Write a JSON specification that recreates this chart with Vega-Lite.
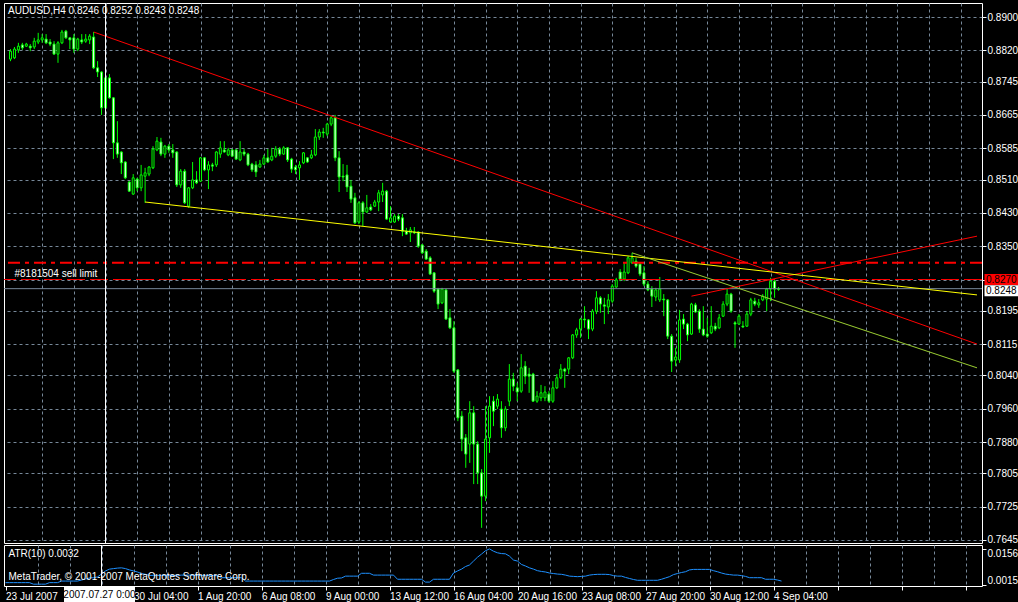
{
"$schema":"https://vega.github.io/schema/vega-lite/v6.json",
"background":"black",
"padding":{"left":2,"top":2,"right":2,"bottom":0},
"bounds":"flush",
"spacing":2,
"datasets":{
"bars":[
{"i":0,"o":0.8799,"h":0.8823,"l":0.8794,"c":0.8818,"atr":0.0026},
{"i":1,"o":0.8802,"h":0.8828,"l":0.8799,"c":0.8823,"atr":0.0026},
{"i":2,"o":0.8821,"h":0.8838,"l":0.8814,"c":0.8830,"atr":0.0026},
{"i":3,"o":0.8833,"h":0.8838,"l":0.8821,"c":0.8826,"atr":0.0026},
{"i":4,"o":0.8830,"h":0.8838,"l":0.8828,"c":0.8835,"atr":0.0026},
{"i":5,"o":0.8830,"h":0.8835,"l":0.8818,"c":0.8826,"atr":0.0026},
{"i":6,"o":0.8828,"h":0.8850,"l":0.8823,"c":0.8842,"atr":0.0026},
{"i":7,"o":0.8840,"h":0.8862,"l":0.8835,"c":0.8845,"atr":0.0020},
{"i":8,"o":0.8845,"h":0.8859,"l":0.8838,"c":0.8850,"atr":0.0020},
{"i":9,"o":0.8847,"h":0.8859,"l":0.8835,"c":0.8838,"atr":0.0020},
{"i":10,"o":0.8840,"h":0.8847,"l":0.8830,"c":0.8835,"atr":0.0020},
{"i":11,"o":0.8835,"h":0.8842,"l":0.8809,"c":0.8811,"atr":0.0026},
{"i":12,"o":0.8811,"h":0.8842,"l":0.8790,"c":0.8838,"atr":0.0026},
{"i":13,"o":0.8838,"h":0.8869,"l":0.8835,"c":0.8864,"atr":0.0026},
{"i":14,"o":0.8866,"h":0.8869,"l":0.8847,"c":0.8850,"atr":0.0032},
{"i":15,"o":0.8850,"h":0.8852,"l":0.8823,"c":0.8845,"atr":0.0032},
{"i":16,"o":0.8850,"h":0.8859,"l":0.8814,"c":0.8823,"atr":0.0032},
{"i":17,"o":0.8823,"h":0.8850,"l":0.8818,"c":0.8847,"atr":0.0032},
{"i":18,"o":0.8845,"h":0.8859,"l":0.8835,"c":0.8840,"atr":0.0032},
{"i":19,"o":0.8842,"h":0.8859,"l":0.8838,"c":0.8847,"atr":0.0036},
{"i":20,"o":0.8845,"h":0.8859,"l":0.8835,"c":0.8854,"atr":0.0040},
{"i":21,"o":0.8852,"h":0.8864,"l":0.8775,"c":0.8778,"atr":0.0044},
{"i":22,"o":0.8778,"h":0.8794,"l":0.8756,"c":0.8768,"atr":0.0045},
{"i":23,"o":0.8768,"h":0.8770,"l":0.8665,"c":0.8682,"atr":0.0048},
{"i":24,"o":0.8682,"h":0.8756,"l":0.8675,"c":0.8754,"atr":0.0059},
{"i":25,"o":0.8754,"h":0.8763,"l":0.8704,"c":0.8706,"atr":0.0071},
{"i":26,"o":0.8706,"h":0.8708,"l":0.8559,"c":0.8598,"atr":0.0078},
{"i":27,"o":0.8598,"h":0.8650,"l":0.8562,"c":0.8571,"atr":0.0080},
{"i":28,"o":0.8576,"h":0.8578,"l":0.8523,"c":0.8550,"atr":0.0082},
{"i":29,"o":0.8552,"h":0.8554,"l":0.8511,"c":0.8514,"atr":0.0083},
{"i":30,"o":0.8504,"h":0.8506,"l":0.8480,"c":0.8482,"atr":0.0080},
{"i":31,"o":0.8475,"h":0.8523,"l":0.8473,"c":0.8514,"atr":0.0075},
{"i":32,"o":0.8511,"h":0.8514,"l":0.8482,"c":0.8490,"atr":0.0071},
{"i":33,"o":0.8490,"h":0.8545,"l":0.8482,"c":0.8521,"atr":0.0067},
{"i":34,"o":0.8518,"h":0.8538,"l":0.8454,"c":0.8526,"atr":0.0061},
{"i":35,"o":0.8523,"h":0.8542,"l":0.8518,"c":0.8540,"atr":0.0058},
{"i":36,"o":0.8538,"h":0.8590,"l":0.8535,"c":0.8583,"atr":0.0054},
{"i":37,"o":0.8581,"h":0.8612,"l":0.8578,"c":0.8602,"atr":0.0054},
{"i":38,"o":0.8600,"h":0.8610,"l":0.8566,"c":0.8571,"atr":0.0054},
{"i":39,"o":0.8571,"h":0.8593,"l":0.8562,"c":0.8590,"atr":0.0054},
{"i":40,"o":0.8590,"h":0.8595,"l":0.8574,"c":0.8581,"atr":0.0054},
{"i":41,"o":0.8581,"h":0.8595,"l":0.8562,"c":0.8574,"atr":0.0054},
{"i":42,"o":0.8576,"h":0.8578,"l":0.8492,"c":0.8497,"atr":0.0054},
{"i":43,"o":0.8497,"h":0.8535,"l":0.8490,"c":0.8530,"atr":0.0054},
{"i":44,"o":0.8530,"h":0.8535,"l":0.8451,"c":0.8454,"atr":0.0055},
{"i":45,"o":0.8446,"h":0.8492,"l":0.8442,"c":0.8490,"atr":0.0055},
{"i":46,"o":0.8490,"h":0.8552,"l":0.8487,"c":0.8509,"atr":0.0055},
{"i":47,"o":0.8509,"h":0.8530,"l":0.8499,"c":0.8502,"atr":0.0054},
{"i":48,"o":0.8506,"h":0.8564,"l":0.8504,"c":0.8562,"atr":0.0054},
{"i":49,"o":0.8562,"h":0.8564,"l":0.8530,"c":0.8533,"atr":0.0054},
{"i":50,"o":0.8533,"h":0.8554,"l":0.8487,"c":0.8545,"atr":0.0054},
{"i":51,"o":0.8545,"h":0.8550,"l":0.8530,"c":0.8542,"atr":0.0053},
{"i":52,"o":0.8545,"h":0.8578,"l":0.8540,"c":0.8576,"atr":0.0053},
{"i":53,"o":0.8571,"h":0.8602,"l":0.8562,"c":0.8586,"atr":0.0053},
{"i":54,"o":0.8581,"h":0.8602,"l":0.8574,"c":0.8576,"atr":0.0045},
{"i":55,"o":0.8569,"h":0.8586,"l":0.8566,"c":0.8581,"atr":0.0045},
{"i":56,"o":0.8581,"h":0.8583,"l":0.8564,"c":0.8566,"atr":0.0045},
{"i":57,"o":0.8581,"h":0.8583,"l":0.8557,"c":0.8559,"atr":0.0045},
{"i":58,"o":0.8557,"h":0.8602,"l":0.8554,"c":0.8576,"atr":0.0045},
{"i":59,"o":0.8576,"h":0.8583,"l":0.8566,"c":0.8571,"atr":0.0045},
{"i":60,"o":0.8571,"h":0.8574,"l":0.8542,"c":0.8545,"atr":0.0032},
{"i":61,"o":0.8547,"h":0.8550,"l":0.8528,"c":0.8533,"atr":0.0032},
{"i":62,"o":0.8545,"h":0.8554,"l":0.8516,"c":0.8528,"atr":0.0032},
{"i":63,"o":0.8540,"h":0.8557,"l":0.8538,"c":0.8547,"atr":0.0032},
{"i":64,"o":0.8547,"h":0.8569,"l":0.8545,"c":0.8562,"atr":0.0032},
{"i":65,"o":0.8562,"h":0.8583,"l":0.8550,"c":0.8552,"atr":0.0032},
{"i":66,"o":0.8557,"h":0.8586,"l":0.8554,"c":0.8566,"atr":0.0032},
{"i":67,"o":0.8566,"h":0.8590,"l":0.8562,"c":0.8583,"atr":0.0032},
{"i":68,"o":0.8583,"h":0.8588,"l":0.8566,"c":0.8571,"atr":0.0032},
{"i":69,"o":0.8571,"h":0.8590,"l":0.8569,"c":0.8586,"atr":0.0032},
{"i":70,"o":0.8586,"h":0.8588,"l":0.8552,"c":0.8557,"atr":0.0032},
{"i":71,"o":0.8559,"h":0.8562,"l":0.8526,"c":0.8535,"atr":0.0032},
{"i":72,"o":0.8540,"h":0.8545,"l":0.8523,"c":0.8533,"atr":0.0032},
{"i":73,"o":0.8538,"h":0.8554,"l":0.8509,"c":0.8545,"atr":0.0032},
{"i":74,"o":0.8550,"h":0.8576,"l":0.8547,"c":0.8574,"atr":0.0032},
{"i":75,"o":0.8562,"h":0.8564,"l":0.8550,"c":0.8552,"atr":0.0032},
{"i":76,"o":0.8562,"h":0.8581,"l":0.8559,"c":0.8569,"atr":0.0032},
{"i":77,"o":0.8569,"h":0.8631,"l":0.8566,"c":0.8612,"atr":0.0032},
{"i":78,"o":0.8612,"h":0.8631,"l":0.8605,"c":0.8624,"atr":0.0032},
{"i":79,"o":0.8624,"h":0.8634,"l":0.8610,"c":0.8622,"atr":0.0032},
{"i":80,"o":0.8619,"h":0.8646,"l":0.8614,"c":0.8643,"atr":0.0032},
{"i":81,"o":0.8643,"h":0.8662,"l":0.8638,"c":0.8658,"atr":0.0032},
{"i":82,"o":0.8658,"h":0.8665,"l":0.8554,"c":0.8562,"atr":0.0038},
{"i":83,"o":0.8562,"h":0.8578,"l":0.8480,"c":0.8516,"atr":0.0043},
{"i":84,"o":0.8518,"h":0.8547,"l":0.8506,"c":0.8516,"atr":0.0044},
{"i":85,"o":0.8521,"h":0.8545,"l":0.8480,"c":0.8492,"atr":0.0051},
{"i":86,"o":0.8494,"h":0.8509,"l":0.8454,"c":0.8463,"atr":0.0051},
{"i":87,"o":0.8466,"h":0.8478,"l":0.8403,"c":0.8406,"atr":0.0051},
{"i":88,"o":0.8408,"h":0.8458,"l":0.8403,"c":0.8454,"atr":0.0051},
{"i":89,"o":0.8454,"h":0.8458,"l":0.8398,"c":0.8432,"atr":0.0062},
{"i":90,"o":0.8432,"h":0.8473,"l":0.8430,"c":0.8442,"atr":0.0062},
{"i":91,"o":0.8444,"h":0.8451,"l":0.8434,"c":0.8437,"atr":0.0062},
{"i":92,"o":0.8446,"h":0.8461,"l":0.8444,"c":0.8456,"atr":0.0055},
{"i":93,"o":0.8456,"h":0.8485,"l":0.8434,"c":0.8478,"atr":0.0055},
{"i":94,"o":0.8473,"h":0.8502,"l":0.8456,"c":0.8482,"atr":0.0055},
{"i":95,"o":0.8482,"h":0.8485,"l":0.8413,"c":0.8415,"atr":0.0055},
{"i":96,"o":0.8408,"h":0.8446,"l":0.8406,"c":0.8418,"atr":0.0055},
{"i":97,"o":0.8408,"h":0.8427,"l":0.8406,"c":0.8422,"atr":0.0055},
{"i":98,"o":0.8422,"h":0.8427,"l":0.8410,"c":0.8415,"atr":0.0039},
{"i":99,"o":0.8418,"h":0.8427,"l":0.8374,"c":0.8386,"atr":0.0039},
{"i":100,"o":0.8386,"h":0.8394,"l":0.8377,"c":0.8379,"atr":0.0039},
{"i":101,"o":0.8382,"h":0.8396,"l":0.8360,"c":0.8389,"atr":0.0039},
{"i":102,"o":0.8384,"h":0.8396,"l":0.8379,"c":0.8382,"atr":0.0039},
{"i":103,"o":0.8384,"h":0.8386,"l":0.8346,"c":0.8350,"atr":0.0039},
{"i":104,"o":0.8353,"h":0.8355,"l":0.8331,"c":0.8334,"atr":0.0039},
{"i":105,"o":0.8338,"h":0.8343,"l":0.8317,"c":0.8319,"atr":0.0028},
{"i":106,"o":0.8322,"h":0.8326,"l":0.8281,"c":0.8283,"atr":0.0028},
{"i":107,"o":0.8286,"h":0.8288,"l":0.8238,"c":0.8242,"atr":0.0039},
{"i":108,"o":0.8247,"h":0.8250,"l":0.8199,"c":0.8211,"atr":0.0039},
{"i":109,"o":0.8214,"h":0.8250,"l":0.8211,"c":0.8247,"atr":0.0039},
{"i":110,"o":0.8245,"h":0.8247,"l":0.8173,"c":0.8175,"atr":0.0039},
{"i":111,"o":0.8178,"h":0.8199,"l":0.8151,"c":0.8154,"atr":0.0039},
{"i":112,"o":0.8154,"h":0.8170,"l":0.8046,"c":0.8050,"atr":0.0063},
{"i":113,"o":0.8053,"h":0.8055,"l":0.7930,"c":0.7938,"atr":0.0071},
{"i":114,"o":0.7942,"h":0.7954,"l":0.7858,"c":0.7887,"atr":0.0078},
{"i":115,"o":0.7890,"h":0.7899,"l":0.7818,"c":0.7851,"atr":0.0088},
{"i":116,"o":0.7875,"h":0.7978,"l":0.7830,"c":0.7950,"atr":0.0094},
{"i":117,"o":0.7950,"h":0.7966,"l":0.7779,"c":0.7875,"atr":0.0109},
{"i":118,"o":0.7875,"h":0.7882,"l":0.7779,"c":0.7806,"atr":0.0124},
{"i":119,"o":0.7806,"h":0.7815,"l":0.7674,"c":0.7750,"atr":0.0136},
{"i":120,"o":0.7750,"h":0.7966,"l":0.7738,"c":0.7887,"atr":0.0149},
{"i":121,"o":0.7890,"h":0.7990,"l":0.7854,"c":0.7966,"atr":0.0156},
{"i":122,"o":0.7978,"h":0.7990,"l":0.7918,"c":0.7954,"atr":0.0147},
{"i":123,"o":0.7966,"h":0.7995,"l":0.7959,"c":0.7983,"atr":0.0141},
{"i":124,"o":0.7959,"h":0.7978,"l":0.7890,"c":0.7914,"atr":0.0138},
{"i":125,"o":0.7914,"h":0.7966,"l":0.7906,"c":0.7959,"atr":0.0137},
{"i":126,"o":0.7978,"h":0.8067,"l":0.7966,"c":0.8031,"atr":0.0128},
{"i":127,"o":0.8031,"h":0.8046,"l":0.8002,"c":0.8014,"atr":0.0113},
{"i":128,"o":0.8010,"h":0.8022,"l":0.7978,"c":0.8000,"atr":0.0109},
{"i":129,"o":0.8002,"h":0.8091,"l":0.7998,"c":0.8058,"atr":0.0096},
{"i":130,"o":0.8062,"h":0.8074,"l":0.8019,"c":0.8038,"atr":0.0090},
{"i":131,"o":0.8043,"h":0.8058,"l":0.7998,"c":0.8038,"atr":0.0083},
{"i":132,"o":0.8043,"h":0.8046,"l":0.7976,"c":0.7978,"atr":0.0078},
{"i":133,"o":0.7978,"h":0.8002,"l":0.7974,"c":0.7990,"atr":0.0072},
{"i":134,"o":0.7986,"h":0.8017,"l":0.7978,"c":0.7998,"atr":0.0069},
{"i":135,"o":0.7986,"h":0.8014,"l":0.7978,"c":0.8000,"atr":0.0067},
{"i":136,"o":0.7995,"h":0.8002,"l":0.7974,"c":0.7978,"atr":0.0063},
{"i":137,"o":0.7978,"h":0.8026,"l":0.7974,"c":0.8010,"atr":0.0061},
{"i":138,"o":0.8010,"h":0.8043,"l":0.8007,"c":0.8034,"atr":0.0059},
{"i":139,"o":0.8034,"h":0.8067,"l":0.8031,"c":0.8055,"atr":0.0058},
{"i":140,"o":0.8055,"h":0.8058,"l":0.8010,"c":0.8050,"atr":0.0055},
{"i":141,"o":0.8055,"h":0.8084,"l":0.8043,"c":0.8082,"atr":0.0051},
{"i":142,"o":0.8082,"h":0.8139,"l":0.8079,"c":0.8137,"atr":0.0050},
{"i":143,"o":0.8137,"h":0.8154,"l":0.8130,"c":0.8149,"atr":0.0049},
{"i":144,"o":0.8151,"h":0.8178,"l":0.8130,"c":0.8175,"atr":0.0050},
{"i":145,"o":0.8175,"h":0.8206,"l":0.8154,"c":0.8173,"atr":0.0051},
{"i":146,"o":0.8173,"h":0.8175,"l":0.8127,"c":0.8151,"atr":0.0055},
{"i":147,"o":0.8151,"h":0.8199,"l":0.8146,"c":0.8194,"atr":0.0057},
{"i":148,"o":0.8194,"h":0.8242,"l":0.8187,"c":0.8226,"atr":0.0058},
{"i":149,"o":0.8226,"h":0.8230,"l":0.8190,"c":0.8211,"atr":0.0058},
{"i":150,"o":0.8209,"h":0.8226,"l":0.8163,"c":0.8206,"atr":0.0058},
{"i":151,"o":0.8204,"h":0.8235,"l":0.8187,"c":0.8221,"atr":0.0057},
{"i":152,"o":0.8218,"h":0.8259,"l":0.8214,"c":0.8254,"atr":0.0053},
{"i":153,"o":0.8252,"h":0.8274,"l":0.8250,"c":0.8269,"atr":0.0051},
{"i":154,"o":0.8288,"h":0.8295,"l":0.8266,"c":0.8271,"atr":0.0051},
{"i":155,"o":0.8271,"h":0.8310,"l":0.8266,"c":0.8288,"atr":0.0046},
{"i":156,"o":0.8286,"h":0.8326,"l":0.8283,"c":0.8322,"atr":0.0042},
{"i":157,"o":0.8310,"h":0.8334,"l":0.8307,"c":0.8322,"atr":0.0038},
{"i":158,"o":0.8314,"h":0.8322,"l":0.8298,"c":0.8302,"atr":0.0035},
{"i":159,"o":0.8307,"h":0.8310,"l":0.8278,"c":0.8283,"atr":0.0035},
{"i":160,"o":0.8286,"h":0.8302,"l":0.8254,"c":0.8259,"atr":0.0035},
{"i":161,"o":0.8259,"h":0.8266,"l":0.8242,"c":0.8245,"atr":0.0035},
{"i":162,"o":0.8247,"h":0.8254,"l":0.8204,"c":0.8230,"atr":0.0035},
{"i":163,"o":0.8228,"h":0.8250,"l":0.8218,"c":0.8245,"atr":0.0035},
{"i":164,"o":0.8221,"h":0.8276,"l":0.8216,"c":0.8247,"atr":0.0039},
{"i":165,"o":0.8223,"h":0.8235,"l":0.8182,"c":0.8221,"atr":0.0044},
{"i":166,"o":0.8221,"h":0.8223,"l":0.8127,"c":0.8134,"atr":0.0049},
{"i":167,"o":0.8134,"h":0.8139,"l":0.8048,"c":0.8074,"atr":0.0057},
{"i":168,"o":0.8077,"h":0.8106,"l":0.8062,"c":0.8084,"atr":0.0061},
{"i":169,"o":0.8077,"h":0.8197,"l":0.8070,"c":0.8173,"atr":0.0065},
{"i":170,"o":0.8175,"h":0.8187,"l":0.8151,"c":0.8163,"atr":0.0068},
{"i":171,"o":0.8163,"h":0.8166,"l":0.8122,"c":0.8137,"atr":0.0075},
{"i":172,"o":0.8139,"h":0.8214,"l":0.8137,"c":0.8211,"atr":0.0077},
{"i":173,"o":0.8209,"h":0.8214,"l":0.8190,"c":0.8192,"atr":0.0077},
{"i":174,"o":0.8194,"h":0.8199,"l":0.8142,"c":0.8151,"atr":0.0077},
{"i":175,"o":0.8151,"h":0.8206,"l":0.8134,"c":0.8137,"atr":0.0077},
{"i":176,"o":0.8139,"h":0.8178,"l":0.8130,"c":0.8134,"atr":0.0077},
{"i":177,"o":0.8142,"h":0.8206,"l":0.8139,"c":0.8158,"atr":0.0072},
{"i":178,"o":0.8158,"h":0.8166,"l":0.8146,"c":0.8151,"atr":0.0068},
{"i":179,"o":0.8154,"h":0.8187,"l":0.8151,"c":0.8178,"atr":0.0063},
{"i":180,"o":0.8182,"h":0.8218,"l":0.8180,"c":0.8211,"atr":0.0059},
{"i":181,"o":0.8211,"h":0.8250,"l":0.8206,"c":0.8235,"atr":0.0057},
{"i":182,"o":0.8235,"h":0.8238,"l":0.8190,"c":0.8194,"atr":0.0055},
{"i":183,"o":0.8166,"h":0.8170,"l":0.8106,"c":0.8163,"atr":0.0055},
{"i":184,"o":0.8163,"h":0.8187,"l":0.8161,"c":0.8182,"atr":0.0053},
{"i":185,"o":0.8158,"h":0.8170,"l":0.8154,"c":0.8156,"atr":0.0050},
{"i":186,"o":0.8158,"h":0.8194,"l":0.8156,"c":0.8187,"atr":0.0045},
{"i":187,"o":0.8187,"h":0.8226,"l":0.8182,"c":0.8221,"atr":0.0045},
{"i":188,"o":0.8218,"h":0.8226,"l":0.8206,"c":0.8211,"atr":0.0045},
{"i":189,"o":0.8209,"h":0.8223,"l":0.8202,"c":0.8214,"atr":0.0045},
{"i":190,"o":0.8221,"h":0.8235,"l":0.8218,"c":0.8230,"atr":0.0039},
{"i":191,"o":0.8223,"h":0.8250,"l":0.8194,"c":0.8247,"atr":0.0039},
{"i":192,"o":0.8247,"h":0.8274,"l":0.8218,"c":0.8266,"atr":0.0039},
{"i":193,"o":0.8266,"h":0.8271,"l":0.8226,"c":0.8247,"atr":0.0036},
{"i":194,"o":0.8246,"h":0.8252,"l":0.8243,"c":0.8248,"atr":0.0032}
],
"trend":[
{"name":"red1","i":21,"p":0.8864},{"name":"red1","i":244.125,"p":0.8115},
{"name":"red2","i":172,"p":0.8230},{"name":"red2","i":244.125,"p":0.8374},
{"name":"yellow","i":34,"p":0.8456},{"name":"yellow","i":244.125,"p":0.8233},
{"name":"green","i":157,"p":0.8334},{"name":"green","i":244.125,"p":0.8058}
],
"levels":[
{"name":"stop","p":0.8310},
{"name":"#8181504 sell limit","p":0.8270},
{"name":"bid","p":0.8248}
],
"marker":[{"i":24,"label":"2007.07.27 0:00"}]
},
"vconcat":[
{
"width":978,"height":540,
"title":{"text":"AUDUSD,H4 0.8246 0.8252 0.8243 0.8248","anchor":"start","offset":-13,"dx":5},
"layer":[
{"data":{"name":"bars"},
 "mark":{"type":"rule","color":"#00FF00","strokeWidth":1},
 "encoding":{
  "x":{"field":"i","type":"quantitative","scale":{"domain":[-0.375,244.125],"nice":false,"zero":false},
   "axis":{"orient":"bottom","values":[8,16,24,32,40,48,56,64,72,80,88,96,104,112,120,128,136,144,152,160,168,176,184,192,200,208,216,224,232,240],"tickCount":200,"grid":true,"labels":false,"ticks":false,"domain":false,"title":null,"minExtent":0,"maxExtent":0}},
  "y":{"field":"l","type":"quantitative","scale":{"domain":[0.76376,0.89336],"nice":false,"zero":false},
   "axis":{"orient":"right","values":[0.8900,0.8820,0.8745,0.8665,0.8585,0.8510,0.8430,0.8350,0.8270,0.8195,0.8115,0.8040,0.7960,0.7880,0.7805,0.7725,0.7645],"tickCount":200,"format":".4f","grid":true,"title":null,"domain":false,"tickSize":4,"labelPadding":1,"labelBaseline":"middle","labelFlush":false,"labelOverlap":false}},
  "y2":{"field":"h"}}},
{"data":{"name":"bars"},
 "mark":{"type":"bar","width":2,"stroke":"#00FF00","strokeWidth":1},
 "encoding":{
  "x":{"field":"i","type":"quantitative","axis":{"title":null}},
  "y":{"field":"o","type":"quantitative","axis":{"title":null}},
  "y2":{"field":"c"},
  "fill":{"condition":{"test":"datum.c < datum.o","value":"white"},"value":"black"}}},
{"data":{"name":"levels"},"transform":[{"filter":"datum.name == 'stop'"}],
 "mark":{"type":"rule","color":"#FF0000","strokeWidth":2,"strokeDash":[12,5,4,5]},
 "encoding":{"y":{"field":"p","type":"quantitative","axis":{"title":null}}}},
{"data":{"name":"levels"},"transform":[{"filter":"datum.name == '#8181504 sell limit'"}],
 "mark":{"type":"rule","color":"#FF0000","strokeWidth":1,"strokeDash":[18,5]},
 "encoding":{"y":{"field":"p","type":"quantitative","axis":{"title":null}}}},
{"data":{"name":"levels"},"transform":[{"filter":"datum.name == 'bid'"}],
 "mark":{"type":"rule","color":"#778899","strokeWidth":1},
 "encoding":{"y":{"field":"p","type":"quantitative","axis":{"title":null}}}},
{"data":{"name":"trend"},
 "mark":{"type":"line","strokeWidth":1},
 "encoding":{
  "x":{"field":"i","type":"quantitative","axis":{"title":null}},
  "y":{"field":"p","type":"quantitative","axis":{"title":null}},
  "detail":{"field":"name"},
  "color":{"field":"name","type":"nominal","scale":{"domain":["red1","red2","yellow","green"],"range":["#FF0000","#FF0000","#FFFF00","#9ACD32"]},"legend":null}}},
{"data":{"name":"marker"},
 "mark":{"type":"rule","color":"white","strokeWidth":1},
 "encoding":{"x":{"field":"i","type":"quantitative","axis":{"title":null}}}},
{"data":{"name":"levels"},"transform":[{"filter":"datum.name == '#8181504 sell limit'"}],
 "mark":{"type":"text","align":"left","baseline":"middle","dy":-6,"color":"white","fontSize":10},
 "encoding":{"x":{"datum":1},"y":{"field":"p","type":"quantitative","axis":{"title":null}},"text":{"field":"name"}}},
{"data":{"name":"levels"},"transform":[{"filter":"datum.name == '#8181504 sell limit'"}],
 "mark":{"type":"point","shape":"M-1,-0.3235L1,-0.3235L1,0.3235L-1,0.3235Z","size":1156,"filled":true,"fill":"#FF0000","strokeWidth":0,"opacity":1,"xOffset":19.5},
 "encoding":{"x":{"value":"width"},"y":{"field":"p","type":"quantitative","axis":{"title":null}}}},
{"data":{"name":"levels"},"transform":[{"filter":"datum.name == '#8181504 sell limit'"}],
 "mark":{"type":"text","align":"left","baseline":"middle","dx":4,"color":"black","fontSize":10},
 "encoding":{"x":{"value":"width"},"y":{"field":"p","type":"quantitative","axis":{"title":null}},"text":{"field":"p","type":"quantitative","format":".4f"}}},
{"data":{"name":"levels"},"transform":[{"filter":"datum.name == 'bid'"}],
 "mark":{"type":"point","shape":"M-1,-0.3235L1,-0.3235L1,0.3235L-1,0.3235Z","size":1156,"filled":true,"fill":"white","strokeWidth":0,"opacity":1,"xOffset":19.5,"yOffset":2},
 "encoding":{"x":{"value":"width"},"y":{"field":"p","type":"quantitative","axis":{"title":null}}}},
{"data":{"name":"levels"},"transform":[{"filter":"datum.name == 'bid'"}],
 "mark":{"type":"text","align":"left","baseline":"middle","dx":4,"dy":2,"color":"black","fontSize":10},
 "encoding":{"x":{"value":"width"},"y":{"field":"p","type":"quantitative","axis":{"title":null}},"text":{"field":"p","type":"quantitative","format":".4f"}}}
]
},
{
"width":978,"height":41,
"title":{"text":"ATR(10) 0.0032","subtitle":"MetaTrader, © 2001-2007 MetaQuotes Software Corp.","anchor":"start","offset":-37,"dx":5,"subtitlePadding":13},
"layer":[
{"data":{"name":"bars"},
 "mark":{"type":"line","color":"#1E90FF","strokeWidth":1},
 "encoding":{
  "x":{"field":"i","type":"quantitative","scale":{"domain":[-0.375,244.125],"nice":false,"zero":false},
   "axis":{"orient":"bottom","values":[0,8,16,24,32,40,48,56,64,72,80,88,96,104,112,120,128,136,144,152,160,168,176,184,192,200,208,216,224,232,240],"tickCount":200,"grid":true,
    "gridOpacity":{"condition":{"test":"datum.value == 0","value":0},"value":1},
    "tickOpacity":{"condition":{"test":"datum.value % 16 == 0","value":1},"value":0},
    "tickSize":4,"domain":false,"title":null,"labelAlign":"left","labelBaseline":"top","labelPadding":1,"labelFlush":false,"labelOverlap":false,
    "labelExpr":"datum.value == 0 ? '23 Jul 2007' : datum.value == 32 ? '30 Jul 04:00' : datum.value == 48 ? '1 Aug 20:00' : datum.value == 64 ? '6 Aug 08:00' : datum.value == 80 ? '9 Aug 00:00' : datum.value == 96 ? '13 Aug 12:00' : datum.value == 112 ? '16 Aug 04:00' : datum.value == 128 ? '20 Aug 16:00' : datum.value == 144 ? '23 Aug 08:00' : datum.value == 160 ? '27 Aug 20:00' : datum.value == 176 ? '30 Aug 12:00' : datum.value == 192 ? '4 Sep 04:00' : ''"}},
  "y":{"field":"atr","type":"quantitative","scale":{"domain":[0.0013,0.0171],"nice":false,"zero":false},
   "axis":{"orient":"right","values":[0.0156,0.0015],"tickCount":200,"format":".4f","grid":false,"title":null,"domain":false,"tickSize":4,"labelPadding":1,"labelFlush":false,"labelOverlap":false,
    "labelBaseline":{"condition":{"test":"datum.value > 0.01","value":"top"},"value":"bottom"}}}}},
{"data":{"name":"marker"},
 "mark":{"type":"rule","color":"white","strokeWidth":1},
 "encoding":{"x":{"field":"i","type":"quantitative","axis":{"title":null}}}},
{"data":{"name":"marker"},
 "mark":{"type":"point","shape":"M-1,-0.2113L1,-0.2113L1,0.2113L-1,0.2113Z","size":5041,"filled":true,"fill":"white","strokeWidth":0,"opacity":1,"xOffset":-2,"yOffset":8.5},
 "encoding":{"x":{"field":"i","type":"quantitative","axis":{"title":null}},"y":{"value":"height"}}},
{"data":{"name":"marker"},
 "mark":{"type":"text","align":"center","baseline":"middle","color":"black","fontSize":10,"xOffset":-2,"yOffset":8.5},
 "encoding":{"x":{"field":"i","type":"quantitative","axis":{"title":null}},"y":{"value":"height"},"text":{"field":"label"}}}
]
}
],
"config":{
 "font":"Liberation Sans",
 "view":{"stroke":"white","strokeWidth":1},
 "axis":{"labelColor":"white","labelFont":"Liberation Sans","labelFontSize":10,"tickColor":"white","tickWidth":1,"gridColor":"#778899","gridDash":[3,3],"gridWidth":1,"gridOpacity":1,"labelOverlap":false,"labelFlush":false},
 "title":{"color":"white","font":"Liberation Sans","fontSize":10,"fontWeight":"normal","subtitleColor":"white","subtitleFont":"Liberation Sans","subtitleFontSize":10}
}
}
